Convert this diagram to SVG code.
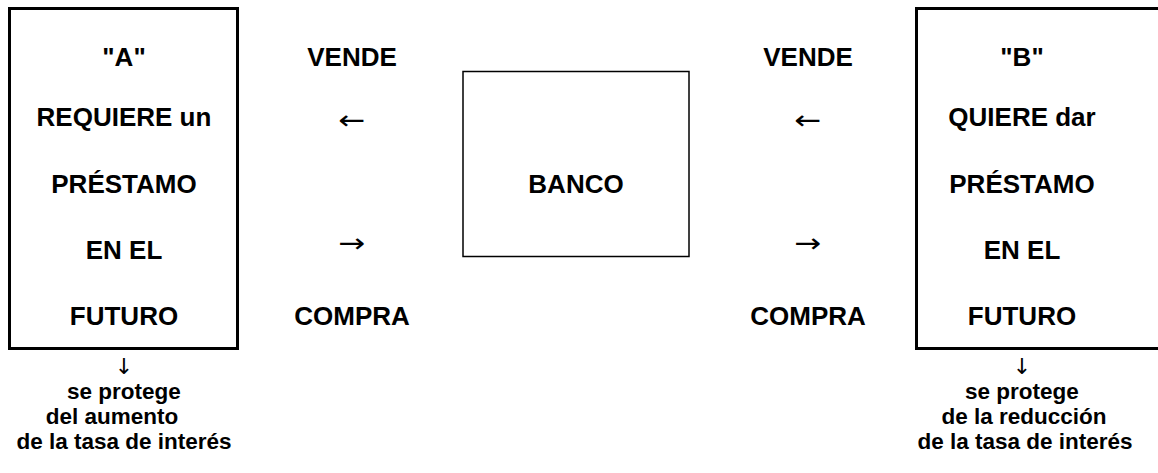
<svg xmlns="http://www.w3.org/2000/svg" width="1158" height="473" viewBox="0 0 1158 473">
<style>
.t{font-family:"Liberation Sans",Arial,sans-serif;font-weight:bold;font-size:26px;fill:#000;text-anchor:middle}
.s{font-family:"Liberation Sans",Arial,sans-serif;font-weight:bold;font-size:22.5px;fill:#000;text-anchor:middle}
.a{font-family:"DejaVu Sans",sans-serif;font-size:26px;fill:#000;text-anchor:middle}
.d{font-family:"DejaVu Sans",sans-serif;font-size:22px;fill:#000;text-anchor:middle}
.box{fill:#fff;stroke:#000;stroke-width:3}
</style>
<rect width="1158" height="473" fill="#fff"/>
<g id="nodeA">
<rect class="box" x="9.5" y="8.5" width="228" height="340"/>
<text class="t" x="124" y="66">"A"</text>
<text class="t" x="124" y="126">REQUIERE un</text>
<text class="t" x="124" y="193">PRÉSTAMO</text>
<text class="t" x="124" y="259">EN EL</text>
<text class="t" x="124" y="325">FUTURO</text>
</g>
<g id="nodeBanco">
<rect x="463" y="71.5" width="226" height="185" fill="#fff" stroke="#000" stroke-width="1.5"/>
<text class="t" x="576" y="193">BANCO</text>
</g>
<g id="nodeB">
<rect class="box" x="916.5" y="8.5" width="260" height="340"/>
<text class="t" x="1022" y="66">"B"</text>
<text class="t" x="1022" y="126">QUIERE dar</text>
<text class="t" x="1022" y="193">PRÉSTAMO</text>
<text class="t" x="1022" y="259">EN EL</text>
<text class="t" x="1022" y="325">FUTURO</text>
</g>
<g id="connectors">
<text class="t" x="352" y="66">VENDE</text>
<text class="a" x="352" y="129" textLength="27" lengthAdjust="spacingAndGlyphs">←</text>
<text class="a" x="352" y="252" textLength="27" lengthAdjust="spacingAndGlyphs">→</text>
<text class="t" x="352" y="325">COMPRA</text>
<text class="t" x="808" y="66">VENDE</text>
<text class="a" x="808" y="129" textLength="27" lengthAdjust="spacingAndGlyphs">←</text>
<text class="a" x="808" y="252" textLength="27" lengthAdjust="spacingAndGlyphs">→</text>
<text class="t" x="808" y="325">COMPRA</text>
<text class="d" x="124" y="374">↓</text>
<text class="d" x="1022" y="374">↓</text>
</g>
<g id="noteA">
<text class="s" x="124" y="399">se protege</text>
<text class="s" x="112" y="424">del aumento</text>
<text class="s" x="124" y="449">de la tasa de interés</text>
</g>
<g id="noteB">
<text class="s" x="1022" y="399">se protege</text>
<text class="s" x="1024" y="424">de la reducción</text>
<text class="s" x="1025" y="449">de la tasa de interés</text>
</g>
</svg>
